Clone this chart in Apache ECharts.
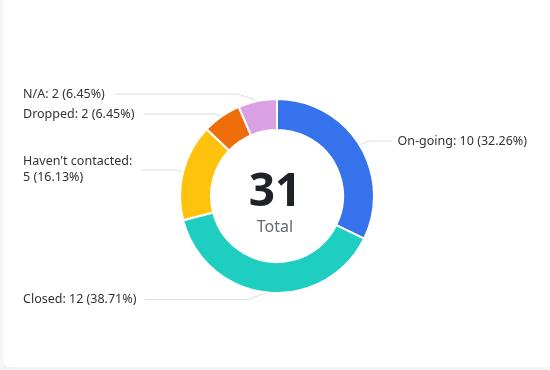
<!DOCTYPE html>
<html>
<head>
<meta charset="utf-8">
<script src="https://cdn.jsdelivr.net/npm/echarts@6/dist/echarts.min.js"></script>
<style>
html,body{margin:0;padding:0;width:550px;height:370px;background:#f3f4f6;overflow:hidden;}
#card{position:absolute;left:3px;top:-20px;width:600px;height:387px;background:#fff;border-radius:8px;}
#chart{position:absolute;left:0;top:0;width:550px;height:370px;}
</style>
</head>
<body>
<div id="card"></div>
<div id="chart"></div>
<script>
var categories = ["On-going", "Closed", "Haven't contacted", "Dropped", "N/A"];
var values = [10, 12, 5, 2, 2];
var colors = ["#3572ec", "#1ecfc1", "#ffc30e", "#ef6e0c", "#d9a0e4"];
var totalLabel = "Total";

var total = values.reduce(function(a,b){return a+b;},0);
var chart = echarts.init(document.getElementById('chart'));
chart.setOption({
  animation:false,
  textStyle:{fontFamily:"Noto Sans"},
  graphic:[
    {type:'text', left:'center', top:170, style:{text:String(total), font:'bold 46px "Noto Sans"', fill:'#1f2329'}},
    {type:'text', left:'center', top:219, style:{text:totalLabel, font:'16px "Noto Sans"', fill:'#646a73'}}
  ],
  series:[{
    type:'pie',
    center:[277,196],
    radius:[66,97],
    startAngle:90,
    clockwise:true,
    avoidLabelOverlap:true,
    itemStyle:{borderColor:'#fff', borderWidth:2},
    label:{
      show:true,
      formatter:function(p){
        var sep = p.name.length > 12 ? ':\n' : ': ';
        return p.name + sep + p.value + ' (' + p.percent.toFixed(2) + '%)';
      },
      fontSize:12.5,
      color:'#333',
      alignTo:'edge',
      edgeDistance:23,
      distanceToLabelLine:9,
      lineHeight:16,
      padding:[1,0,1,0]
    },
    labelLine:{show:true, length:7, length2:12, minTurnAngle:160, lineStyle:{color:'#dcdee0', width:1}},
    data: categories.map(function(c,i){
      var d = {name:c, value:values[i], itemStyle:{color:colors[i]}};
      if (i === 0) d.label = {distanceToLabelLine:5};
      return d;
    })
  }]
});
</script>
</body>
</html>
